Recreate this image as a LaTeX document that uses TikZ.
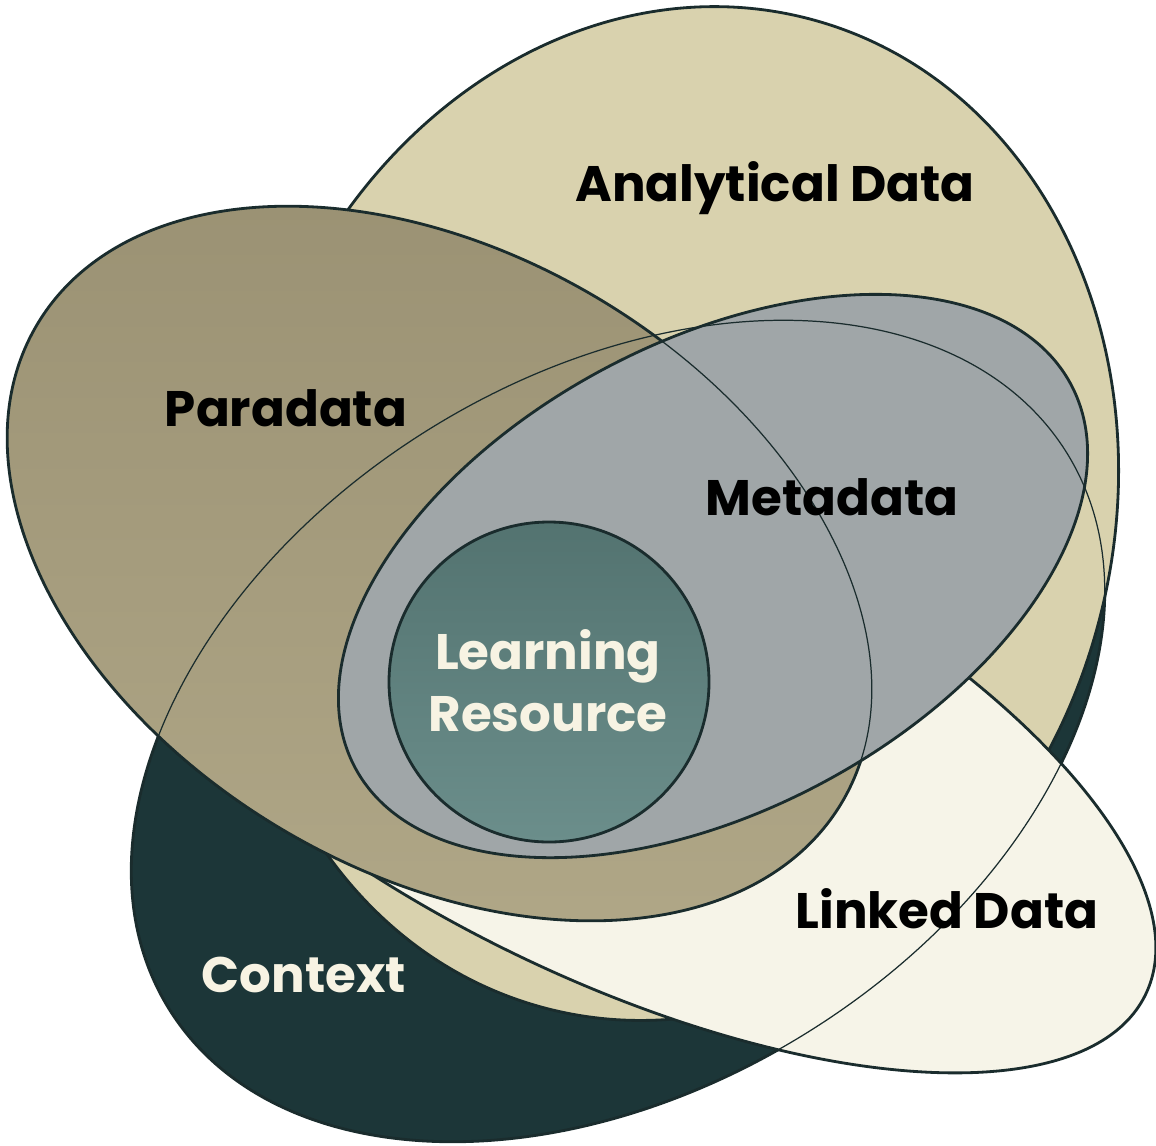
\documentclass[tikz,border=0pt]{standalone}
\usepackage{fontspec}
\setmainfont{Poppins}

\definecolor{contextteal}{HTML}{1C3638}
\definecolor{analytictan}{HTML}{D9D2AE}
\definecolor{paradtop}{HTML}{9A9173}
\definecolor{paradbottom}{HTML}{B0A787}
\definecolor{metagrey}{HTML}{A0A6A8}
\definecolor{learntop}{HTML}{537370}
\definecolor{learnbottom}{HTML}{6B8E8B}
\definecolor{linkcream}{HTML}{F6F4E8}
\definecolor{rimdark}{HTML}{1A2C2D}
\definecolor{labelcream}{HTML}{F7F3E3}

\begin{document}
\begin{tikzpicture}[
  setrim/.style={draw=rimdark, line width=0.8pt},
  thinrim/.style={draw=rimdark, line width=0.35pt},
  darklabel/.style={font=\bfseries\fontsize{14.2}{17.6}\selectfont, text=black},
  lightlabel/.style={font=\bfseries\fontsize{14.2}{17.6}\selectfont, text=labelcream, align=center}
]
\useasboundingbox (0,0) rectangle (11.56,11.45);

%%% centres of the sets %%%
\coordinate (ctx)  at (6.18,4.14);
\coordinate (ana)  at (6.775,6.315);
\coordinate (para) at (4.395,5.815);
\coordinate (meta) at (7.13,5.69);
\coordinate (link) at (6.184,4.064);
\coordinate (lres) at (5.49,4.63);

%%% sets, back to front %%%
\fill[contextteal, setrim, rotate around={31.7:(ctx)}] (ctx) ellipse (5.28 and 3.56);
\fill[analytictan, setrim, rotate around={-15.6:(ana)}] (ana) ellipse (4.35 and 5.12);
\fill[linkcream, setrim, rotate around={-25.9:(link)}] (link) ellipse (5.86 and 2.39);
\draw[top color=paradtop, bottom color=paradbottom, setrim, rotate around={-30.7:(para)}] (para) ellipse (4.68 and 3.09);
\fill[metagrey, setrim, rotate around={28.2:(meta)}] (meta) ellipse (4.06 and 2.34);
\draw[top color=learntop, bottom color=learnbottom, setrim] (lres) circle (1.60);

%%% outlines seen through %%%
\draw[thinrim, rotate around={-30.7:(para)}] (para) ellipse (4.68 and 3.09);
\draw[thinrim, rotate around={31.7:(ctx)}] (ctx) ellipse (5.28 and 3.56);

%%% labels %%%
\node[darklabel] (analytical) at (7.75,9.57) {Analytical Data};
\node[darklabel] (paradata) at (2.86,7.37) {Paradata};
\node[darklabel] (metadata) at (8.32,6.48) {Metadata};
\node[darklabel] (linked) at (9.47,2.36) {Linked Data};
\node[lightlabel] (learning) at (5.48,4.64) {Learning\\Resource};
\node[lightlabel] (context) at (3.04,1.70) {Context};

\end{tikzpicture}
\end{document}
